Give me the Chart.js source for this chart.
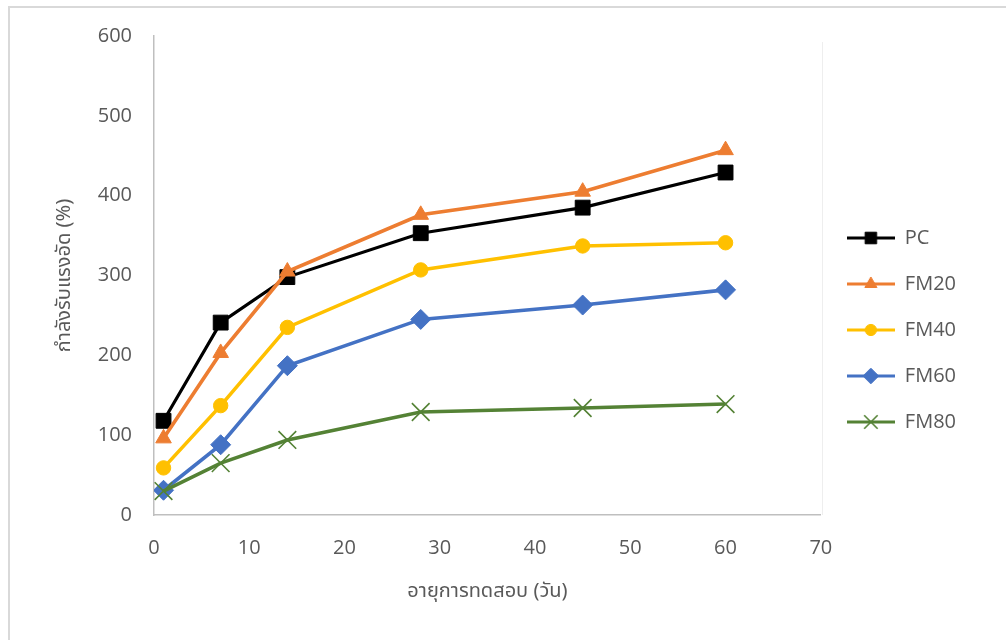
<!DOCTYPE html>
<html>
<head>
<meta charset="utf-8">
<script src="https://cdn.jsdelivr.net/npm/chart.js@4.4.1/dist/chart.umd.min.js"></script>
<style>
  html, body { margin: 0; padding: 0; background: #ffffff; overflow: hidden; }
  #frame { position: absolute; left: 8px; top: 6px; width: 1020px; height: 660px; border: 2px solid #d9d9d9; box-sizing: border-box; }
  #wrap { position: absolute; left: 0; top: 0; width: 1006px; height: 640px; }
</style>
</head>
<body>
<div id="frame"></div>
<div id="wrap"><canvas id="chart" width="1006" height="640"></canvas></div>
<script>
// Test ages (days)
const ages = [1, 7, 14, 28, 45, 60];

// Compressive strength (%) per mix
const pc   = [118, 241, 298, 353, 385, 429];
const fm20 = [96, 203, 305, 376, 405, 457];
const fm40 = [59, 137, 235, 307, 337, 341];
const fm60 = [31, 88, 187, 245, 263, 282];
const fm80 = [30, 65, 94, 129, 134, 139];

const seriesNames = ['PC', 'FM20', 'FM40', 'FM60', 'FM80'];
const xTicks = [0, 10, 20, 30, 40, 50, 60, 70];
const yTicks = [0, 100, 200, 300, 400, 500, 600];

const xTitle = 'อายุการทดสอบ (วัน)';
const yTitle = 'กำลังรับแรงอัด (%)';

const TEXT = '#595959';
const AXIS = '#bfbfbf';
const FONT = '"Open Sans", "Noto Sans", sans-serif';
const THAI_FONT = '"Noto Sans Thai", "Noto Sans", "DejaVu Sans", sans-serif';

const styles = [
  { color: '#000000', pointStyle: 'rect',     radius: 10.5, width: 3.2, pbw: 1 },
  { color: '#ED7D31', pointStyle: 'triangle', radius: 9,    width: 3.6, pbw: 1 },
  { color: '#FFC000', pointStyle: 'circle',   radius: 7.2,  width: 3.6, pbw: 1 },
  { color: '#4472C4', pointStyle: 'rectRot',  radius: 10,   width: 3.6, pbw: 1 },
  { color: '#548235', pointStyle: 'crossRot', radius: 12.5, width: 3.6, pbw: 1.6 }
];
const values = [pc, fm20, fm40, fm60, fm80];

const datasets = values.map((vals, i) => ({
  label: seriesNames[i],
  data: ages.map((a, j) => ({ x: a, y: vals[j] })),
  borderColor: styles[i].color,
  backgroundColor: styles[i].color,
  borderWidth: styles[i].width,
  pointStyle: styles[i].pointStyle,
  pointRadius: styles[i].radius,
  pointHoverRadius: styles[i].radius,
  pointBorderWidth: styles[i].pbw,
  pointBackgroundColor: styles[i].color,
  pointBorderColor: styles[i].color,
  tension: 0,
  fill: false,
  order: values.length - i
}));

// Legend sample: short line with the series marker in the middle
const LEG_W = 48, LEG_H = 26;
function legendSample(i) {
  const c = document.createElement('canvas');
  c.width = LEG_W; c.height = LEG_H;
  const ctx = c.getContext('2d');
  const s = styles[i];
  ctx.strokeStyle = s.color;
  ctx.fillStyle = s.color;
  ctx.lineWidth = 3.2;
  ctx.beginPath();
  ctx.moveTo(0, LEG_H / 2);
  ctx.lineTo(LEG_W, LEG_H / 2);
  ctx.stroke();
  ctx.lineWidth = s.pbw;
  Chart.helpers.drawPoint(ctx, {
    pointStyle: s.pointStyle,
    radius: s.pointStyle === 'crossRot' ? 9.5 : s.radius * 0.78,
    rotation: 0,
    borderWidth: s.pbw
  }, LEG_W / 2, LEG_H / 2);
  return c;
}
const legendImages = seriesNames.map((_, i) => legendSample(i));

// Faint outline on the right side of the plot area
const plotEdge = {
  id: 'plotEdge',
  beforeDatasetsDraw(chart) {
    const { ctx, chartArea } = chart;
    ctx.save();
    ctx.strokeStyle = '#eeeeee';
    ctx.lineWidth = 1;
    ctx.beginPath();
    ctx.moveTo(Math.round(chartArea.right) + 1.5, chartArea.top + 6);
    ctx.lineTo(Math.round(chartArea.right) + 1.5, chartArea.bottom);
    ctx.stroke();
    ctx.restore();
  }
};

new Chart(document.getElementById('chart'), {
  type: 'line',
  data: { datasets },
  plugins: [plotEdge],
  options: {
    responsive: false,
    animation: false,
    events: [],
    layout: { padding: { left: 40, top: 36, right: 40, bottom: 16 } },
    plugins: {
      tooltip: { enabled: false },
      legend: {
        position: 'right',
        align: 'center',
        labels: {
          usePointStyle: true,
          pointStyleWidth: LEG_W,
          padding: 26,
          color: TEXT,
          font: { family: FONT, size: 20 },
          generateLabels: (chart) => chart.data.datasets.map((ds, i) => ({
            text: ds.label,
            fillStyle: ds.borderColor,
            strokeStyle: ds.borderColor,
            lineWidth: 0,
            pointStyle: legendImages[i],
            fontColor: TEXT,
            hidden: false,
            datasetIndex: i
          }))
        }
      }
    },
    scales: {
      x: {
        type: 'linear',
        min: 0,
        max: 70,
        afterBuildTicks: (scale) => { scale.ticks = xTicks.map(v => ({ value: v })); },
        afterFit: (scale) => { scale.height = 109; },
        grid: { display: false, drawTicks: false },
        border: { display: true, color: AXIS, width: 1.5 },
        ticks: { color: TEXT, font: { family: FONT, size: 20 }, padding: 21, maxRotation: 0 },
        title: {
          display: true,
          text: xTitle,
          color: TEXT,
          font: { family: THAI_FONT, size: 20 },
          padding: { top: 0, bottom: 19 }
        }
      },
      y: {
        type: 'linear',
        min: 0,
        max: 600,
        afterBuildTicks: (scale) => { scale.ticks = yTicks.map(v => ({ value: v })); },
        afterFit: (scale) => { scale.width = 114; },
        grid: { display: false, drawTicks: false },
        border: { display: true, color: AXIS, width: 1.5 },
        ticks: { color: TEXT, font: { family: FONT, size: 20 }, padding: 22 },
        title: {
          display: true,
          text: yTitle,
          color: TEXT,
          font: { family: THAI_FONT, size: 20 },
          padding: { top: 14, bottom: 0 }
        }
      }
    }
  }
});
</script>
</body>
</html>
